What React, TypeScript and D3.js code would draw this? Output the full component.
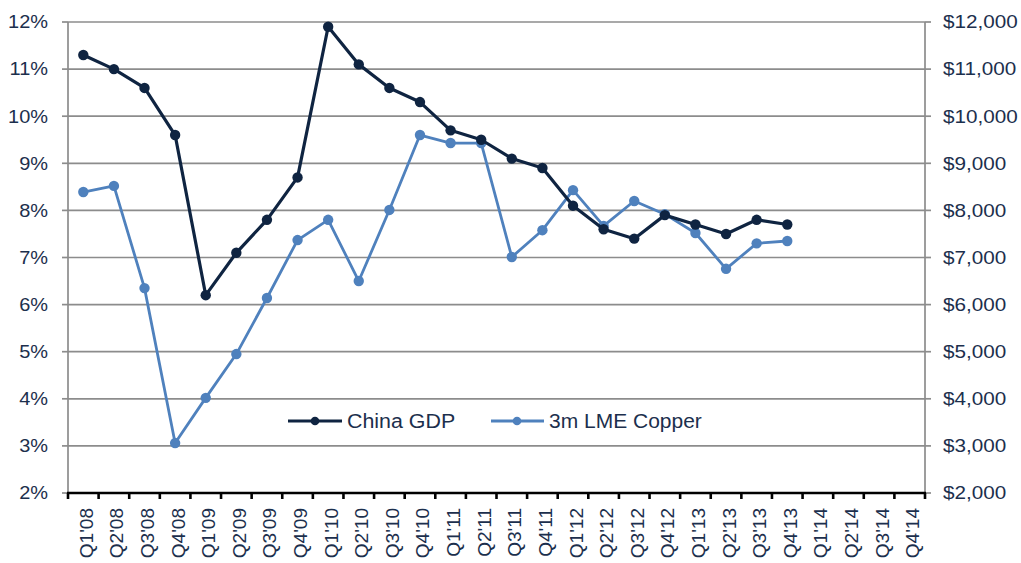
import React from "react";
import * as d3 from "d3";

const quarters = [
  "Q1'08", "Q2'08", "Q3'08", "Q4'08", "Q1'09", "Q2'09", "Q3'09", "Q4'09",
  "Q1'10", "Q2'10", "Q3'10", "Q4'10", "Q1'11", "Q2'11", "Q3'11", "Q4'11",
  "Q1'12", "Q2'12", "Q3'12", "Q4'12", "Q1'13", "Q2'13", "Q3'13", "Q4'13",
  "Q1'14", "Q2'14", "Q3'14", "Q4'14",
];

// China real GDP growth, % y/y
const chinaGdp = [
  11.3, 11.0, 10.6, 9.6, 6.2, 7.1, 7.8, 8.7,
  11.9, 11.1, 10.6, 10.3, 9.7, 9.5, 9.1, 8.9,
  8.1, 7.6, 7.4, 7.9, 7.7, 7.5, 7.8, 7.7,
];

// 3-month LME copper, USD/t
const lmeCopper = [
  8390, 8520, 6350, 3060, 4020, 4950, 6140, 7370,
  7800, 6500, 8010, 9600, 9430, 9430, 7010, 7580,
  8430, 7670, 8200, 7920, 7520, 6760, 7300, 7350,
];

const leftTicks = [2, 3, 4, 5, 6, 7, 8, 9, 10, 11, 12];
const rightTicks = [2000, 3000, 4000, 5000, 6000, 7000, 8000, 9000, 10000, 11000, 12000];

const W = 1021;
const H = 563;
const M = { left: 68, right: 925, top: 22, bottom: 493 };

const GDP_COLOR = "#0f2441";
const CU_COLOR = "#4f81bd";
const TEXT_COLOR = "#1c2f4d";
const GRID_COLOR = "#8c8c8c";
const FONT = "'Liberation Sans', Arial, sans-serif";

export default function App() {
  const x = d3.scaleBand<string>().domain(quarters).range([M.left, M.right]);
  const yL = d3.scaleLinear().domain([2, 12]).range([M.bottom, M.top]);
  const yR = d3.scaleLinear().domain([2000, 12000]).range([M.bottom, M.top]);
  const cx = (i: number) => (x(quarters[i]) as number) + x.bandwidth() / 2;

  const gdpLine = d3.line<number>().x((_, i) => cx(i)).y((d) => yL(d));
  const cuLine = d3.line<number>().x((_, i) => cx(i)).y((d) => yR(d));
  const fmtUsd = d3.format("$,");

  const legendY = 421;

  return (
    <svg
      width={W}
      height={H}
      style={{ position: "absolute", left: 0, top: 0, background: "#fff" }}
      fontFamily={FONT}
    >
      {/* horizontal gridlines */}
      {leftTicks.slice(1).map((t) => (
        <line key={`g${t}`} x1={M.left} x2={M.right} y1={yL(t)} y2={yL(t)}
          stroke={GRID_COLOR} strokeWidth={1.7} />
      ))}

      {/* left axis */}
      <line x1={M.left} x2={M.left} y1={M.top} y2={M.bottom} stroke={GRID_COLOR} strokeWidth={1.7} />
      {leftTicks.map((t) => (
        <g key={`l${t}`}>
          <line x1={M.left - 6} x2={M.left} y1={yL(t)} y2={yL(t)} stroke={GRID_COLOR} strokeWidth={1.7} />
          <text transform={`translate(48,${yL(t)}) scale(1.11,1)`} dy="0.35em" textAnchor="end"
            fontSize={18} fill={TEXT_COLOR}>
            {`${t}%`}
          </text>
        </g>
      ))}

      {/* right axis */}
      <line x1={M.right} x2={M.right} y1={M.top} y2={M.bottom} stroke={GRID_COLOR} strokeWidth={1.7} />
      {rightTicks.map((t) => (
        <g key={`r${t}`}>
          <line x1={M.right} x2={M.right + 6} y1={yR(t)} y2={yR(t)} stroke={GRID_COLOR} strokeWidth={1.7} />
          <text transform={`translate(943,${yR(t)}) scale(1.15,1)`} dy="0.35em" textAnchor="start"
            fontSize={18} fill={TEXT_COLOR}>
            {fmtUsd(t)}
          </text>
        </g>
      ))}

      {/* category axis */}
      <line x1={M.left - 1} x2={M.right + 1} y1={M.bottom} y2={M.bottom} stroke="#000" strokeWidth={2.6} />
      {d3.range(quarters.length + 1).map((i) => {
        const xx = M.left + i * x.step();
        return <line key={`t${i}`} x1={xx} x2={xx} y1={M.bottom} y2={M.bottom + 6} stroke="#000" strokeWidth={2.6} />;
      })}
      {quarters.map((q, i) => (
        <text key={q} transform={`translate(${cx(i) + 9.5},${M.bottom + 15}) rotate(-90) scale(1.06,1)`}
          textAnchor="end" fontSize={18} fill={TEXT_COLOR}>
          {q}
        </text>
      ))}

      {/* copper series */}
      <path d={cuLine(lmeCopper) ?? ""} fill="none" stroke={CU_COLOR} strokeWidth={2.8} strokeLinejoin="round" />
      {lmeCopper.map((v, i) => (
        <circle key={`c${i}`} cx={cx(i)} cy={yR(v)} r={5.2} fill={CU_COLOR} />
      ))}

      {/* GDP series */}
      <path d={gdpLine(chinaGdp) ?? ""} fill="none" stroke={GDP_COLOR} strokeWidth={3.2} strokeLinejoin="round" />
      {chinaGdp.map((v, i) => (
        <circle key={`d${i}`} cx={cx(i)} cy={yL(v)} r={5.2} fill={GDP_COLOR} />
      ))}

      {/* legend */}
      <g>
        <line x1={288} x2={342} y1={legendY} y2={legendY} stroke={GDP_COLOR} strokeWidth={3} />
        <circle cx={315} cy={legendY} r={4.3} fill={GDP_COLOR} />
        <text transform={`translate(347,${legendY}) scale(1.07,1)`} dy="0.35em" fontSize={20} fill={TEXT_COLOR}>
          China GDP
        </text>

        <line x1={491} x2={544} y1={legendY} y2={legendY} stroke={CU_COLOR} strokeWidth={2.8} />
        <circle cx={517} cy={legendY} r={4.3} fill={CU_COLOR} />
        <text transform={`translate(549,${legendY}) scale(1.05,1)`} dy="0.35em" fontSize={20} fill={TEXT_COLOR}>
          3m LME Copper
        </text>
      </g>
    </svg>
  );
}
